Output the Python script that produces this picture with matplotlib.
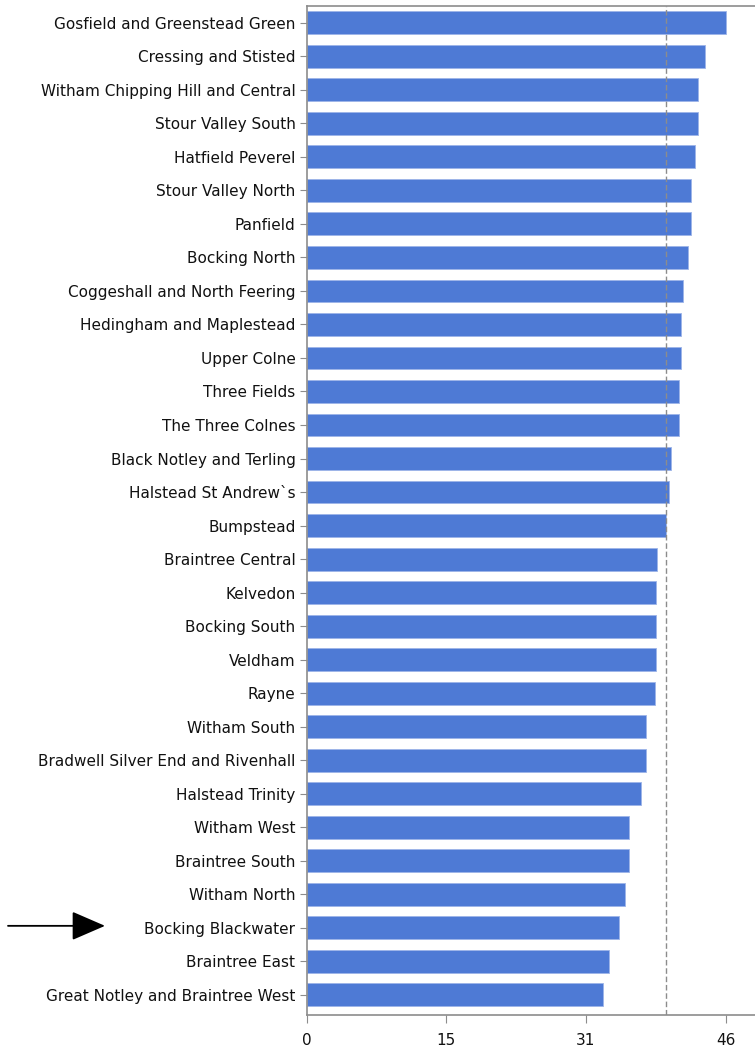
import matplotlib
matplotlib.use("Agg")
import matplotlib.pyplot as plt

wards = [
    "Gosfield and Greenstead Green", "Cressing and Stisted", "Witham Chipping Hill and Central",
    "Stour Valley South", "Hatfield Peverel", "Stour Valley North", "Panfield", "Bocking North",
    "Coggeshall and North Feering", "Hedingham and Maplestead", "Upper Colne", "Three Fields",
    "The Three Colnes", "Black Notley and Terling", "Halstead St Andrew`s", "Bumpstead",
    "Braintree Central", "Kelvedon", "Bocking South", "Veldham", "Rayne", "Witham South",
    "Bradwell Silver End and Rivenhall", "Halstead Trinity", "Witham West", "Braintree South",
    "Witham North", "Bocking Blackwater", "Braintree East", "Great Notley and Braintree West",
]
values = [
    46.0, 43.7, 43.0, 43.0, 42.6, 42.2, 42.2, 41.9,
    41.3, 41.1, 41.1, 40.9, 40.9, 40.0, 39.8, 39.4,
    38.5, 38.4, 38.4, 38.4, 38.2, 37.3, 37.3, 36.7,
    35.4, 35.4, 34.9, 34.3, 33.2, 32.5,
]
average = 39.4
tick_values = [0, 46 / 3, 92 / 3, 46]
tick_labels = ["0", "15", "31", "46"]
highlight = "Bocking Blackwater"

fig = plt.figure(figsize=(7.55, 10.49), dpi=100)
ax = fig.add_axes([306.5 / 755, 1 - 1015 / 1049, 1 - 306.5 / 755 + 0.001, (1015 - 6) / 1049])

ypos = list(range(len(wards)))
ax.barh(ypos, values, height=0.68, color="#4E7AD5", edgecolor="#9DB4E8", linewidth=0.6)
ax.axvline(average, color="#8C8C8C", linestyle=(0, (4, 2)), linewidth=1.0)

ax.set_ylim(len(wards) - 1 + 0.6, -0.5)
ax.set_xlim(0, 49.3)
ax.set_yticks(ypos)
ax.set_yticklabels(wards, fontsize=11, color="#111111")
ax.set_xticks(tick_values)
ax.set_xticklabels(tick_labels, fontsize=11, color="#111111")

for s in ["left", "bottom", "top"]:
    ax.spines[s].set_color("#8C8C8C")
    ax.spines[s].set_linewidth(1.2)
ax.spines["right"].set_visible(False)
ax.tick_params(axis="y", length=5, color="#8C8C8C", pad=3)
ax.tick_params(axis="x", length=6, color="#8C8C8C", pad=7)

# arrow pointing at highlighted ward
idx = wards.index(highlight)
yfig = (ax.transData.transform((0, idx))[1] + 2) / fig.dpi / fig.get_figheight()
fig.patches.append(matplotlib.patches.FancyArrowPatch(
    (8 / 755, yfig), (105 / 755, yfig), transform=fig.transFigure,
    arrowstyle="-|>,head_length=1.5,head_width=0.65", mutation_scale=14,
    shrinkA=0, shrinkB=0, color="black", linewidth=1.3))

fig.savefig("out.png", dpi=100)
